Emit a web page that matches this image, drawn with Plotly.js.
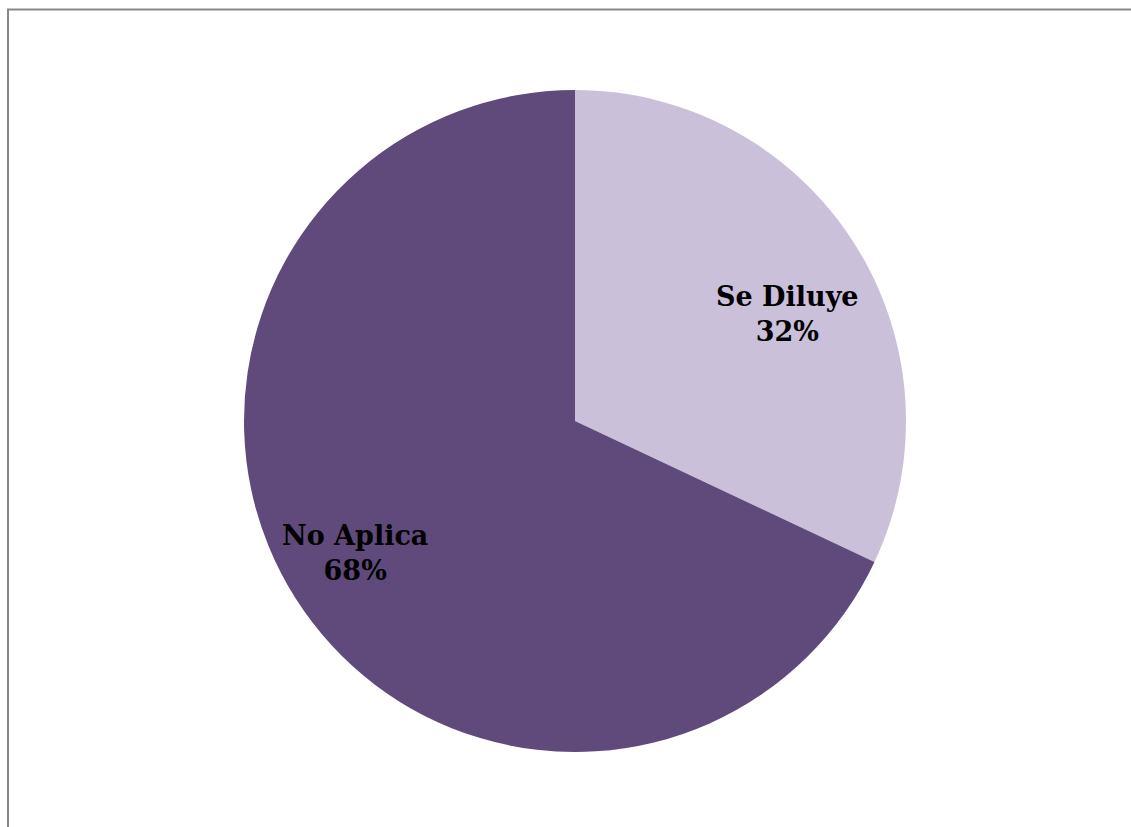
<!DOCTYPE html>
<html>
<head>
<meta charset="utf-8">
<script src="https://cdn.plot.ly/plotly-3.0.1.min.js"></script>
<style>
html,body{margin:0;padding:0;background:#fff;}
#chart{width:1131px;height:827px;}
</style>
</head>
<body>
<div id="chart"></div>
<script>
const categories = ["Se Diluye", "No Aplica"];
const percentages = [32, 68];
const sliceColors = ["#CBC0DA", "#604A7B"];

const W = 1131, H = 827;
const cx = 575, cy = 421, R = 331;

// label placement style (angle shift in degrees, fraction of radius)
const labelAngleShift = [5.6, 1.4];
const labelRadiusFrac = [0.718, 0.775];

const trace = {
  type: "pie",
  labels: categories,
  values: percentages,
  sort: false,
  direction: "clockwise",
  rotation: 0,
  marker: {colors: sliceColors, line: {width: 0}},
  textinfo: "none",
  hoverinfo: "none",
  showlegend: false,
  domain: {
    x: [(cx - R) / W, (cx + R) / W],
    y: [(H - cy - R) / H, (H - cy + R) / H]
  }
};

const total = percentages.reduce((a, b) => a + b, 0);
let cum = 0;
const annotations = categories.map((cat, i) => {
  const start = cum / total * 360;
  cum += percentages[i];
  const end = cum / total * 360;
  const ang = ((start + end) / 2 + labelAngleShift[i]) * Math.PI / 180;
  const r = R * labelRadiusFrac[i];
  const px = cx + r * Math.sin(ang);
  const py = cy - r * Math.cos(ang);
  const pct = Math.round(percentages[i] / total * 100);
  return {
    xref: "paper", yref: "paper",
    x: px / W, y: 1 - py / H,
    xanchor: "center", yanchor: "middle",
    text: "<b>" + cat + "</b><br><b>" + pct + "%</b>",
    showarrow: false, align: "center",
    font: {family: "DejaVu Serif, serif", size: 27, color: "#000000"}
  };
});

const layout = {
  width: W, height: H,
  margin: {l: 0, r: 0, t: 0, b: 0},
  paper_bgcolor: "#ffffff",
  showlegend: false,
  annotations: annotations,
  shapes: [{
    type: "rect", xref: "paper", yref: "paper",
    x0: 8 / W, x1: 1.02, y0: -0.02, y1: 1 - 9.5 / H,
    line: {color: "#878787", width: 2}, fillcolor: "rgba(0,0,0,0)"
  }]
};

Plotly.newPlot("chart", [trace], layout, {displayModeBar: false, staticPlot: true});
</script>
</body>
</html>
